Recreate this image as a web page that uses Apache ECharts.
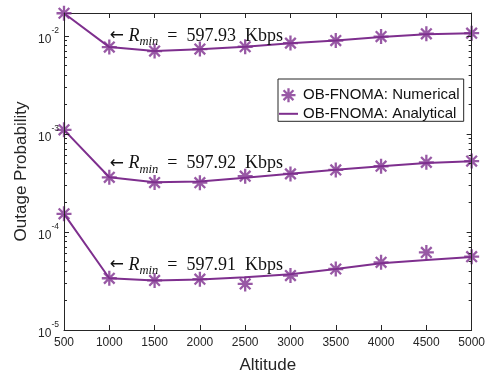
<!DOCTYPE html>
<html><head><meta charset="utf-8">
<script src="https://cdn.jsdelivr.net/npm/echarts@6/dist/echarts.min.js"></script>
<style>html,body{margin:0;padding:0;background:#fff}#c{width:488px;height:379px}</style>
</head><body><div id="c"></div>
<script>
// ---- data ----
const altitudes = [500, 1000, 1500, 2000, 2500, 3000, 3500, 4000, 4500, 5000];
const numTop = [0.0170, 0.00768, 0.00700, 0.00733, 0.00774, 0.00843, 0.00896, 0.00984, 0.0105, 0.01064];
const anaTop = [0.0170, 0.00768, 0.00700, 0.00730, 0.00775, 0.00838, 0.00895, 0.00975, 0.0104, 0.01064];
const numMid = [0.00110, 0.000361, 0.000319, 0.000318, 0.000370, 0.000391, 0.000429, 0.000468, 0.000513, 0.000528];
const anaMid = [0.00110, 0.000361, 0.000321, 0.000327, 0.000358, 0.000392, 0.000430, 0.000467, 0.000505, 0.000525];
const numBot = [1.53e-4, 3.37e-5, 3.20e-5, 3.30e-5, 2.95e-5, 3.59e-5, 4.19e-5, 4.90e-5, 6.18e-5, 5.60e-5];
const anaBot = [1.53e-4, 3.37e-5, 3.20e-5, 3.28e-5, 3.45e-5, 3.70e-5, 4.20e-5, 4.80e-5, 5.18e-5, 5.55e-5];
const yMajorTicks = [1e-5, 1e-4, 1e-3, 1e-2];
const yMinorTicks = [];
[-5, -4, -3].forEach(d => { for (let k = 2; k <= 9; k++) yMinorTicks.push(+(k * Math.pow(10, d)).toPrecision(3)); });
const rminValues = ['597.93', '597.92', '597.91'];
const rminAnchorAlt = 1000;
const rminAnchorY = [0.0100, 5.0e-4, 4.6e-5];
const legendNames = ['OB-FNOMA: Numerical', 'OB-FNOMA: Analytical'];

// ---- style ----
const PURPLE = '#7E2F8E';
const AX = '#262626';
const SANS = '"Liberation Sans", Arial, Helvetica, sans-serif';
const SERIF = '"Liberation Serif", "DejaVu Serif", serif';
const ASTERISK = 'path://M0,-10L0,10M-10,0L10,0M-7.07,-7.07L7.07,7.07M-7.07,7.07L7.07,-7.07';
const LINE_ICON = 'path://M0,0L19,0L19,2L0,2Z';
const Y_MIN = 1e-5, Y_MAX = 0.0171;

const pairs = (ys) => altitudes.map((x, i) => [x, ys[i]]);

function yAxisBase(pos, ticks, len, showLine, labels) {
  return {
    type: 'log', logBase: 10, min: Y_MIN, max: Y_MAX, position: pos, z: 10,
    axisLine: { show: showLine, lineStyle: { color: AX, width: 1 } },
    axisTick: { show: true, inside: true, length: len, customValues: ticks, lineStyle: { color: AX, width: 1 } },
    axisLabel: labels ? {
      show: true, customValues: ticks, margin: 5, color: AX,
      formatter: v => '{b|10}{s|' + Math.round(Math.log10(v)) + '}',
      rich: {
        b: { fontFamily: SANS, fontSize: 12, color: AX, lineHeight: 20, verticalAlign: 'bottom' },
        s: { fontFamily: SANS, fontSize: 8.5, color: AX, verticalAlign: 'top', lineHeight: 20 }
      }
    } : { show: false },
    splitLine: { show: false }, minorTick: { show: false }
  };
}
function xAxisBase(pos, labels) {
  return {
    type: 'value', min: 500, max: 5000, interval: 500, position: pos,
    axisLine: { show: true, onZero: false, lineStyle: { color: AX, width: 1 } },
    axisTick: { show: true, inside: true, length: 5, lineStyle: { color: AX, width: 1 } },
    axisLabel: labels ? { show: true, color: AX, fontFamily: SANS, fontSize: 12, margin: 7, formatter: v => String(v) } : { show: false },
    splitLine: { show: false }
  };
}

const xAxes = [
  Object.assign(xAxisBase('bottom', true), {
    name: 'Altitude', nameLocation: 'middle', nameGap: 27, nameMoveOverlap: false,
    nameTextStyle: { color: AX, fontFamily: SANS, fontSize: 17 }
  }),
  xAxisBase('top', false)
];
const yAxes = [
  Object.assign(yAxisBase('left', yMajorTicks, 5, true, true), {
    name: 'Outage Probability', nameLocation: 'middle', nameGap: 34, nameMoveOverlap: false,
    nameTextStyle: { color: AX, fontFamily: SANS, fontSize: 17 }
  }),
  yAxisBase('left', yMinorTicks, 3, false, false),
  yAxisBase('right', yMajorTicks, 5, true, false),
  yAxisBase('right', yMinorTicks, 3, false, false)
];

function numSeries(ys) {
  return {
    type: 'scatter', name: legendNames[0], data: pairs(ys),
    symbol: ASTERISK, symbolSize: 15, z: 3,
    itemStyle: { color: PURPLE, borderColor: PURPLE, borderWidth: 2.3 }
  };
}
function anaSeries(ys, idx) {
  return {
    type: 'line', name: legendNames[1], data: pairs(ys),
    symbol: 'none', z: 2,
    lineStyle: { color: PURPLE, width: 2 }, itemStyle: { color: PURPLE },
    markPoint: {
      symbol: 'circle', symbolSize: 1, itemStyle: { color: 'rgba(0,0,0,0)' },
      label: {
        show: true, position: 'right', distance: 0,
        formatter: '{w|\u2190}{a|\u2005}{r|R}{m|min}{a|\u2002=\u2002' + rminValues[idx] + '\u2002Kbps}',
        rich: {
          w: { fontFamily: '"DejaVu Sans"', fontSize: 17, color: '#111' },
          a: { fontFamily: SERIF, fontSize: 18, color: '#111' },
          r: { fontFamily: SERIF, fontSize: 18, fontStyle: 'italic', color: '#111' },
          m: { fontFamily: SERIF, fontSize: 12.5, fontStyle: 'italic', color: '#111', verticalAlign: 'bottom', lineHeight: 25 }
        }
      },
      data: [{ coord: [rminAnchorAlt, rminAnchorY[idx]] }]
    }
  };
}

const chart = echarts.init(document.getElementById('c'), null, { renderer: 'canvas' });
chart.setOption({
  animation: false,
  backgroundColor: '#fff',
  grid: { left: 64, right: 16, top: 13, bottom: 47, containLabel: false },
  xAxis: xAxes,
  yAxis: yAxes,
  legend: {
    left: 278, top: 79, orient: 'vertical',
    backgroundColor: '#fff', borderColor: AX, borderWidth: 1, borderRadius: 0,
    padding: [8, 4, 0, 1], itemGap: 3, itemWidth: 19, itemHeight: 14,
    textStyle: { color: '#111', fontFamily: SANS, fontSize: 15 },
    data: [
      { name: legendNames[0], icon: ASTERISK, itemStyle: { color: PURPLE, borderColor: PURPLE, borderWidth: 2.3 } },
      { name: legendNames[1], icon: LINE_ICON, itemStyle: { color: PURPLE, borderWidth: 0 } }
    ]
  },
  series: [
    anaSeries(anaTop, 0), numSeries(numTop),
    anaSeries(anaMid, 1), numSeries(numMid),
    anaSeries(anaBot, 2), numSeries(numBot)
  ]
});
</script></body></html>
